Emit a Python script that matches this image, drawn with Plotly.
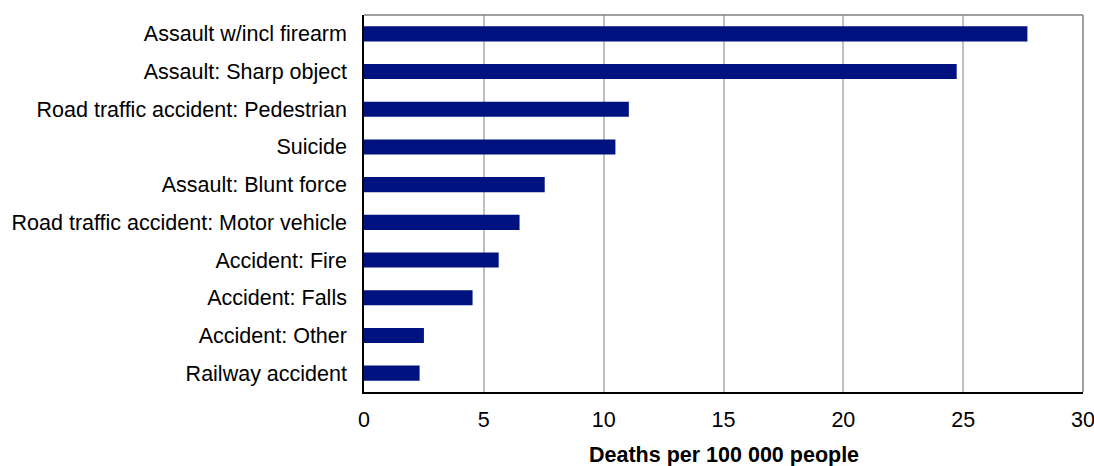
import plotly.graph_objects as go

categories = [
    "Assault w/incl firearm",
    "Assault: Sharp object",
    "Road traffic accident: Pedestrian",
    "Suicide",
    "Assault: Blunt force",
    "Road traffic accident: Motor vehicle",
    "Accident: Fire",
    "Accident: Falls",
    "Accident: Other",
    "Railway accident",
]
values = [27.68, 24.73, 11.05, 10.49, 7.54, 6.49, 5.62, 4.53, 2.50, 2.32]
x_ticks = [0, 5, 10, 15, 20, 25, 30]
x_title = "Deaths per 100 000 people"

fig = go.Figure(
    go.Bar(
        x=values,
        y=categories,
        orientation="h",
        marker=dict(color="#00127f", line=dict(width=0)),
        hoverinfo="x+y",
    )
)

fig.update_layout(
    width=1094,
    height=466,
    margin=dict(l=364, r=11, t=15, b=74),
    paper_bgcolor="white",
    plot_bgcolor="white",
    bargap=0.6,
    showlegend=False,
    font=dict(family="Liberation Sans, Arial, sans-serif", size=21.5, color="black"),
    xaxis=dict(
        range=[0, 30],
        tickvals=x_ticks,
        ticktext=[str(t) for t in x_ticks],
        showgrid=True,
        gridcolor="#c0c0c0",
        gridwidth=2,
        zeroline=False,
        showline=True,
        linecolor="black",
        linewidth=1.5,
        ticks="",
        ticklabelstandoff=7,
        ticklabeloverflow="allow",
        automargin=False,
        fixedrange=True,
    ),
    yaxis=dict(
        autorange="reversed",
        showgrid=False,
        zeroline=False,
        showline=True,
        linecolor="black",
        linewidth=1.5,
        ticks="",
        ticklabelstandoff=11,
        automargin=False,
        fixedrange=True,
    ),
    shapes=[
        dict(type="line", xref="paper", yref="paper", x0=0, x1=1, y0=1, y1=1,
             line=dict(color="#808080", width=1.5)),
        dict(type="line", xref="paper", yref="paper", x0=1, x1=1, y0=0, y1=1,
             line=dict(color="#808080", width=1.5)),
    ],
    annotations=[
        dict(text="<b>" + x_title + "</b>", xref="paper", yref="paper",
             x=0.5, y=0, yshift=-63, xanchor="center", yanchor="middle",
             showarrow=False, font=dict(size=21.5)),
    ],
)

fig.write_html("out.html")
